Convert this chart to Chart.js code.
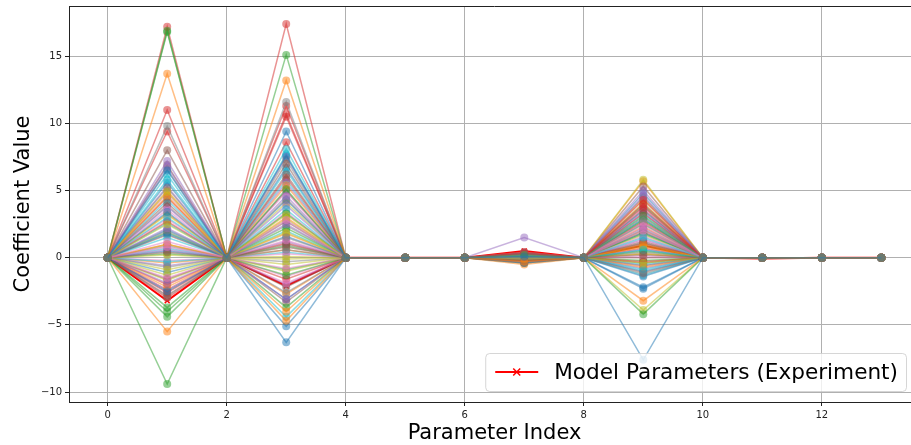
<!DOCTYPE html>
<html>
<head>
<meta charset="utf-8">
<script src="https://cdn.jsdelivr.net/npm/chart.js@4.4.0/dist/chart.umd.min.js"></script>
<style>
  html, body { margin: 0; padding: 0; overflow: hidden; background: #fff; }
  #wrap { width: 911px; height: 445px; overflow: hidden; }
</style>
</head>
<body>
<div id="wrap"><canvas id="myChart" width="920" height="445"></canvas></div>
<script>
// DATOS
const paramIndex = [0, 1, 2, 3, 4, 5, 6, 7, 8, 9, 10, 11, 12, 13];

// valores de cada corrida en los parametros que no son cero (1, 3, 7, 9)
const coefP1 = [
  6.5, 13.7, 16.9, 17.2, 7.2, 8.0, 1.2, 9.8, 2.5, 5.8,
  3.4, -5.5, -9.4, 11.0, 2.2, 4.1, -1.5, 2.0, 4.9, 3.0,
  -2.5, 4.6, 16.8, 9.4, 6.8, -2.8, 0.8, 5.2, -0.9, 6.2,
  1.8, 1.0, -4.4, -2.6, -1.9, 0.4, 3.6, -0.7, 0.2, 1.5,
  5.6, -2.2, -4.0, 2.7, 0.6, -1.6, -2.4, 6.6, -1.3, 4.3,
  -1.1, 5.0, -3.7, -2.0, 3.8, 1.7, 2.9, -2.9, 3.2, -0.3,
  0.5, 3.3, 1.9, 4.5, -0.6, 6.9, -0.2, 0.9, 1.0, 2.6,
  2.1, -0.4, 0.3, -3.0, 5.3, -2.4, 4.8, 3.9, -1.7, 0.7
];
const coefP3 = [
  9.4, 13.2, 15.1, 17.4, 4.6, 6.2, 2.8, 11.6, 3.2, 8.1,
  7.6, -4.7, 5.1, 10.7, 2.5, 7.0, -0.8, 1.5, 1.9, 6.5,
  -6.3, -4.0, -3.7, 11.3, -3.1, -3.3, 1.3, 4.4, -0.5, -4.4,
  -5.1, 5.4, 3.3, 10.5, 5.6, 1.0, 4.9, 0.6, 2.9, 3.6,
  6.7, 1.8, -1.3, 6.0, 3.9, 5.0, -1.9, -2.6, -1.0, 5.8,
  4.3, 3.0, 2.2, -1.6, 1.2, 0.8, 3.4, 7.3, -0.1, 2.0,
  -3.1, -2.7, 0.9, 1.1, 7.5, -2.2, 0.3, 2.4, 4.1, 0.4,
  1.6, 0.6, -0.9, 8.6, -2.0, 2.7, -1.4, -0.3, 0.1, 7.7
];
const coefP7 = [
  0.1, -0.3, 0.2, 0.3, 1.5, -0.2, 0.2, 0.0, -0.1, 0.2,
  -0.4, -0.5, 0.1, 0.4, 0.3, -0.3, 0.1, -0.1, 0.0, 0.1,
  0.2, -0.2, 0.3, 0.1, -0.1, 0.2, -0.3, 0.1, 0.0, 0.3,
  -0.1, 0.2, -0.2, 0.0, 0.2, -0.4, 0.1, 0.3, -0.2, 0.1,
  0.3, 0.0, 0.1, -0.2, 0.4, 0.1, -0.1, 0.2, 0.3, -0.3,
  0.0, 0.1, -0.1, 0.2, -0.2, 0.3, 0.2, -0.2, 0.1, 0.0,
  0.2, -0.3, 0.0, 0.3, 0.1, -0.1, 0.3, 0.0, -0.4, 0.2,
  -0.2, 0.4, 0.2, -0.1, 0.0, 0.2, -0.2, 0.1, 0.2, -0.1
];
const coefP9 = [
  -7.6, -3.2, -4.2, 4.3, 5.0, 5.3, 2.0, 3.0, 5.8, 1.5,
  -2.3, 5.7, 3.1, 3.8, 4.6, 0.2, 2.6, -1.2, -3.9, 0.6,
  -2.2, 1.0, 2.8, 4.0, 2.2, 3.6, 1.6, 4.5, -0.4, -0.9,
  4.8, -0.7, 1.8, 3.3, 3.4, 1.2, 2.4, -0.6, 0.9, 2.9,
  -1.0, 2.3, 0.5, -0.3, 1.4, -1.1, 3.7, 1.9, 4.1, -0.5,
  3.5, 0.8, 2.5, 1.1, -0.8, 2.1, 0.1, 0.4, 1.7, 3.2,
  -1.4, 4.4, -0.2, 2.7, 0.6, -0.4, 1.3, 2.6, 0.3, 1.1,
  1.9, 0.3, 3.9, 0.7, 2.9, 0.0, -0.6, 1.0, 2.0, -1.3
];

// parametros del experimento (linea roja)
const experimentLabel = 'Model Parameters (Experiment)';
const experiment = [0, -3.2, 0, -2.1, 0, 0, 0, 0.5, 0, 0.9, 0, -0.05, 0, 0];

// ticks
const xTicks = [0, 2, 4, 6, 8, 10, 12];
const yTicks = [-10, -5, 0, 5, 10, 15];

// colores tab10 de matplotlib
const tab10 = ['31,119,180', '255,127,14', '44,160,44', '214,39,40', '148,103,189',
               '140,86,75', '227,119,194', '127,127,127', '188,189,34', '23,190,207'];

const FONT = '"DejaVu Sans", sans-serif';

// armar una serie por corrida
const datasets = [];
for (let n = 0; n < coefP1.length; n++) {
  const byIndex = { 1: coefP1[n], 3: coefP3[n], 7: coefP7[n], 9: coefP9[n] };
  const c = 'rgba(' + tab10[n % 10] + ',0.5)';
  datasets.push({
    label: 'run ' + n,
    data: paramIndex.map(i => ({ x: i, y: byIndex[i] !== undefined ? byIndex[i] : 0 })),
    borderColor: c,
    backgroundColor: c,
    borderWidth: 1.5,
    pointRadius: 4,
    pointBorderWidth: 0,
    pointBackgroundColor: c
  });
}
datasets.push({
  label: experimentLabel,
  data: paramIndex.map((i, k) => ({ x: i, y: experiment[k] })),
  borderColor: '#ff0000',
  backgroundColor: '#ff0000',
  borderWidth: 2,
  pointStyle: 'crossRot',
  pointRadius: 3.5,
  pointBorderWidth: 1.5,
  pointBorderColor: '#ff0000'
});

function fmt(v) {
  return v < 0 ? '\u2212' + Math.abs(v) : String(v);
}

// borde superior del grafico
const topSpine = {
  id: 'topSpine',
  afterDraw(chart) {
    const { ctx, chartArea } = chart;
    ctx.save();
    ctx.strokeStyle = '#222';
    ctx.lineWidth = 1;
    ctx.beginPath();
    ctx.moveTo(chartArea.left, chartArea.top + 0.5);
    ctx.lineTo(chartArea.right, chartArea.top + 0.5);
    ctx.stroke();
    ctx.restore();
  }
};

// leyenda dentro del area (abajo a la derecha)
const legendBox = {
  id: 'legendBox',
  afterDraw(chart) {
    const { ctx, chartArea } = chart;
    ctx.save();
    ctx.font = '21.6px ' + FONT;
    const tw = ctx.measureText(experimentLabel).width;
    const padL = 10, lineW = 43, gap = 16, padR = 8, h = 38;
    const w = padL + lineW + gap + tw + padR;
    const right = chartArea.right - 14;
    const bottom = chartArea.bottom - 11;
    const x = right - w, y = bottom - h;
    ctx.beginPath();
    ctx.roundRect(x + 0.5, y + 0.5, w, h, 4);
    ctx.fillStyle = 'rgba(255,255,255,0.8)';
    ctx.fill();
    ctx.strokeStyle = 'rgba(204,204,204,0.8)';
    ctx.lineWidth = 1;
    ctx.stroke();
    const cy = y + h / 2;
    ctx.strokeStyle = '#ff0000';
    ctx.lineWidth = 2;
    ctx.beginPath();
    ctx.moveTo(x + padL, cy);
    ctx.lineTo(x + padL + lineW, cy);
    ctx.stroke();
    const mx = x + padL + lineW / 2, r = 3.5;
    ctx.lineWidth = 1.5;
    ctx.beginPath();
    ctx.moveTo(mx - r, cy - r); ctx.lineTo(mx + r, cy + r);
    ctx.moveTo(mx - r, cy + r); ctx.lineTo(mx + r, cy - r);
    ctx.stroke();
    ctx.fillStyle = '#000';
    ctx.textBaseline = 'middle';
    ctx.fillText(experimentLabel, x + padL + lineW + gap, cy + 1);
    ctx.restore();
  }
};

const config = {
  type: 'line',
  data: { datasets },
  options: {
    responsive: false,
    animation: false,
    devicePixelRatio: 1,
    layout: { autoPadding: false, padding: { top: 6, right: 0, left: 0, bottom: 0 } },
    elements: { line: { tension: 0 } },
    plugins: {
      legend: { display: false },
      tooltip: { enabled: false }
    },
    scales: {
      x: {
        type: 'linear',
        min: -0.65,
        max: 13.65,
        afterBuildTicks: s => { s.ticks = xTicks.map(v => ({ value: v })); },
        afterFit: s => { s.height = 43; s.paddingLeft = 0; s.paddingRight = 0; },
        grid: { color: '#b0b0b0', lineWidth: 1, tickColor: '#222', tickLength: 4 },
        border: { color: '#222', width: 1 },
        ticks: { color: '#222', font: { family: FONT, size: 10 }, padding: 3, maxRotation: 0, callback: v => fmt(v) },
        title: { display: true, text: 'Parameter Index', color: '#000', font: { family: FONT, size: 21 }, padding: { top: 0, bottom: -1 } }
      },
      y: {
        min: -10.74,
        max: 18.74,
        afterBuildTicks: s => { s.ticks = yTicks.map(v => ({ value: v })); },
        afterFit: s => { s.width = 69; s.paddingTop = 0; s.paddingBottom = 0; },
        grid: { color: '#b0b0b0', lineWidth: 1, tickColor: '#222', tickLength: 4 },
        border: { color: '#222', width: 1 },
        ticks: { color: '#222', font: { family: FONT, size: 10 }, padding: 3, callback: v => fmt(v) },
        title: { display: true, text: 'Coefficient Value', color: '#000', font: { family: FONT, size: 21 }, padding: { top: 11, bottom: 0 } }
      }
    }
  },
  plugins: [topSpine, legendBox]
};

const myChart = new Chart(document.getElementById('myChart'), config);
</script>
</body>
</html>
